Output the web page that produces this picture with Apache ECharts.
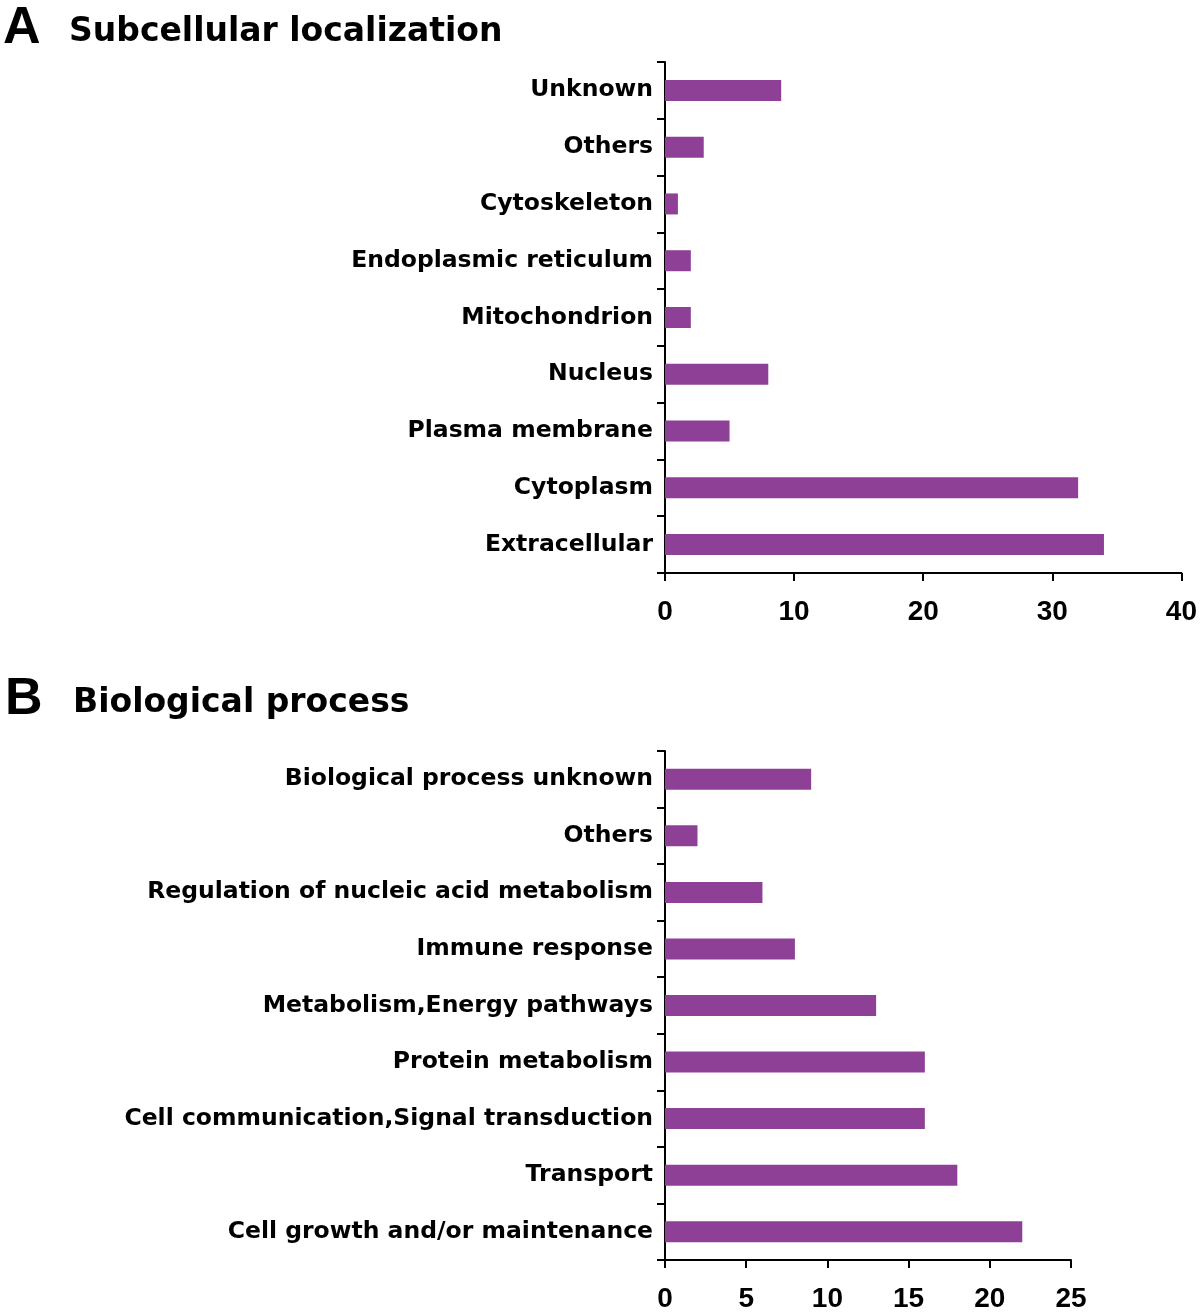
<!DOCTYPE html>
<html>
<head>
<meta charset="utf-8">
<script src="https://cdn.jsdelivr.net/npm/echarts@6/dist/echarts.min.js"></script>
<style>
html,body{margin:0;padding:0;background:#fff;}
#chart{width:1200px;height:1314px;}
</style>
</head>
<body>
<div id="chart"></div>
<script>
// Panel A: Subcellular localization (top to bottom)
var categoriesA = ['Unknown','Others','Cytoskeleton','Endoplasmic reticulum','Mitochondrion','Nucleus','Plasma membrane','Cytoplasm','Extracellular'];
var valuesA = [9, 3, 1, 2, 2, 8, 5, 32, 34];
var ticksA = {min: 0, max: 40, interval: 10};

// Panel B: Biological process (top to bottom)
var categoriesB = ['Biological process unknown','Others','Regulation of nucleic acid metabolism','Immune response','Metabolism,Energy pathways','Protein metabolism','Cell communication,Signal transduction','Transport','Cell growth and/or maintenance'];
var valuesB = [9, 2, 6, 8, 13, 16, 16, 18, 22];
var ticksB = {min: 0, max: 25, interval: 5};

var panelLetters = ['A', 'B'];
var panelTitles = ['Subcellular localization', 'Biological process'];

var barColor = '#8E4096';
var labelFont = 'DejaVu Sans';
var numFont = 'Liberation Sans';

function yAxisCfg(idx, cats) {
  return {
    type: 'category', gridIndex: idx, data: cats, inverse: true,
    axisLine: {show: true, lineStyle: {color: '#000', width: 2}},
    axisTick: {show: true, length: 8, lineStyle: {color: '#000', width: 2}},
    axisLabel: {color: '#000', fontFamily: labelFont, fontWeight: 'bold', fontSize: 23.5, margin: 12},
    splitLine: {show: false}
  };
}
function xAxisCfg(idx, t) {
  return {
    type: 'value', gridIndex: idx, min: t.min, max: t.max, interval: t.interval,
    axisLine: {show: true, lineStyle: {color: '#000', width: 2}},
    axisTick: {show: true, length: 8, lineStyle: {color: '#000', width: 2}},
    axisLabel: {color: '#000', fontFamily: numFont, fontWeight: 'bold', fontSize: 28, margin: 25},
    splitLine: {show: false}
  };
}

var chart = echarts.init(document.getElementById('chart'), null, {renderer: 'canvas'});
chart.setOption({
  backgroundColor: '#fff',
  animation: false,
  grid: [
    {left: 665, right: 17, top: 62, height: 511, containLabel: false},
    {left: 665, right: 129, top: 751, height: 509, containLabel: false}
  ],
  xAxis: [xAxisCfg(0, ticksA), xAxisCfg(1, ticksB)],
  yAxis: [yAxisCfg(0, categoriesA), yAxisCfg(1, categoriesB)],
  series: [
    {type: 'bar', xAxisIndex: 0, yAxisIndex: 0, data: valuesA, barWidth: 21, itemStyle: {color: barColor}},
    {type: 'bar', xAxisIndex: 1, yAxisIndex: 1, data: valuesB, barWidth: 21, itemStyle: {color: barColor}}
  ],
  graphic: [
    {type: 'text', left: 3, top: 3, style: {text: panelLetters[0], font: 'bold 52px "Liberation Sans"', fill: '#000'}},
    {type: 'text', left: 69, top: 16, style: {text: panelTitles[0], font: 'bold 33px "DejaVu Sans"', fill: '#000'}},
    {type: 'text', left: 5, top: 674, style: {text: panelLetters[1], font: 'bold 52px "Liberation Sans"', fill: '#000'}},
    {type: 'text', left: 73, top: 687, style: {text: panelTitles[1], font: 'bold 33px "DejaVu Sans"', fill: '#000'}}
  ]
});
</script>
</body>
</html>
